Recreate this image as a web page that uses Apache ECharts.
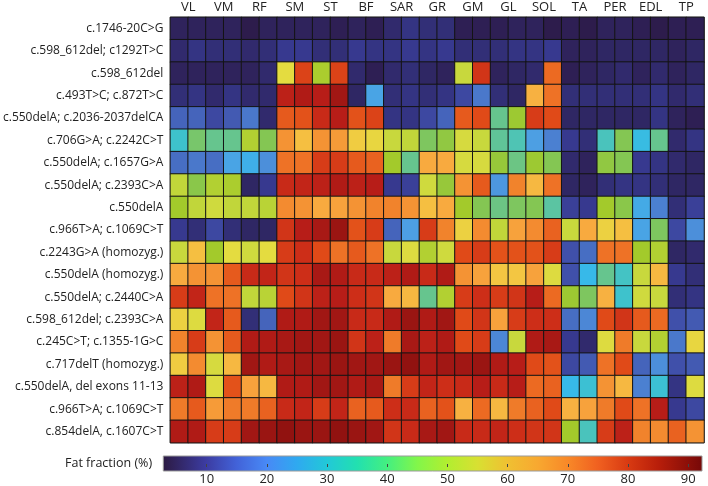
<!DOCTYPE html>
<html><head><meta charset="utf-8">
<script src="https://cdn.jsdelivr.net/npm/echarts@6/dist/echarts.min.js"></script>
<style>html,body{margin:0;padding:0;background:#fff}#c{width:708px;height:486px}</style>
</head><body><div id="c"></div>
<script>
// ---- data ----
const muscles = ['VL','VM','RF','SM','ST','BF','SAR','GR','GM','GL','SOL','TA','PER','EDL','TP'];
const sides = ['1','2'];
const variants = [
  'c.1746-20C>G','c.598_612del; c1292T>C','c.598_612del','c.493T>C; c.872T>C',
  'c.550delA; c.2036-2037delCA','c.706G>A; c.2242C>T','c.550delA; c.1657G>A',
  'c.550delA; c.2393C>A','c.550delA','c.966T>A; c.1069C>T','c.2243G>A (homozyg.)',
  'c.550delA (homozyg.)','c.550delA; c.2440C>A','c.598_612del; c.2393C>A',
  'c.245C>T; c.1355-1G>C','c.717delT (homozyg.)','c.550delA, del exons 11-13',
  'c.966T>A; c.1069C>T','c.854delA, c.1607C>T'
];
const row01 = [5,5, 5,5, 3,5, 5,5, 5,4, 5,4, 7,9, 8,8, 4,4, 4,5, 5,3, 4,3, 5,5, 4,3, 4,4];
const row02 = [7,9, 8,8, 7,8, 10,10, 8,8, 10,9, 9,10, 9,10, 8,8, 8,9, 9,10, 5,5, 6,6, 6,6, 5,6];
const row03 = [5,5, 5,5, 5,7, 57,78, 49,78, 7,4, 7,8, 6,5, 53,80, 5,6, 7,73, 4,5, 6,7, 5,7, 5,6];
const row04 = [8,9, 7,9, 7,7, 84,86, 85,88, 6,23, 8,9, 8,9, 12,17, 8,6, 64,72, 8,8, 8,8, 8,9, 7,8];
const row05 = [15,15, 12,14, 17,7, 75,76, 82,85, 76,78, 9,9, 12,15, 75,77, 38,47, 79,77, 6,6, 6,6, 6,9, 5,4];
const row06 = [31,41, 38,38, 50,43, 68,62, 68,67, 60,58, 53,52, 42,45, 55,53, 37,34, 22,18, 10,8, 33,43, 28,38, 7,9];
const row07 = [16,17, 16,23, 25,20, 72,72, 79,79, 75,74, 48,38, 65,65, 55,55, 46,39, 47,43, 7,5, 45,43, 10,9, 7,6];
const row08 = [52,44, 50,49, 6,10, 82,83, 84,86, 84,85, 10,11, 54,46, 68,75, 21,70, 63,72, 6,5, 8,9, 9,8, 6,6];
const row09 = [48,52, 54,52, 52,51, 69,68, 65,66, 68,70, 70,68, 62,65, 48,43, 39,42, 43,36, 11,10, 48,44, 24,18, 8,11];
const row10 = [10,8, 12,8, 6,6, 80,85, 87,89, 76,79, 15,22, 79,70, 59,69, 52,66, 69,74, 53,65, 59,62, 23,42, 12,20];
const row11 = [53,62, 48,57, 54,57, 79,81, 77,72, 75,72, 53,56, 50,54, 77,79, 76,76, 76,79, 13,16, 72,72, 48,50, 6,7];
const row12 = [65,68, 68,75, 82,83, 80,81, 87,86, 82,82, 84,86, 82,86, 68,66, 61,61, 66,56, 13,27, 38,32, 53,63, 10,8];
const row13 = [79,83, 72,72, 52,51, 77,80, 84,85, 81,80, 65,63, 38,50, 79,81, 79,80, 85,73, 47,42, 64,31, 54,53, 8,9];
const row14 = [59,56, 83,75, 8,15, 86,86, 88,88, 82,82, 86,89, 86,88, 77,80, 66,79, 81,81, 16,19, 77,80, 75,73, 13,14];
const row15 = [70,79, 68,75, 86,86, 87,88, 88,89, 80,84, 71,87, 84,86, 77,79, 19,53, 86,87, 10,7, 56,71, 53,50, 17,58];
const row16 = [60,69, 55,63, 88,86, 87,88, 88,89, 88,88, 89,90, 86,88, 88,89, 86,85, 77,76, 12,14, 72,77, 15,20, 13,14];
const row17 = [84,86, 56,76, 66,63, 86,86, 88,88, 86,87, 71,79, 83,81, 82,85, 82,85, 73,74, 27,30, 68,63, 18,30, 9,56];
const row18 = [71,75, 67,71, 71,74, 82,83, 79,83, 74,75, 81,82, 74,76, 64,73, 63,71, 74,77, 64,66, 71,77, 72,85, 10,12];
const row19 = [86,86, 79,79, 88,89, 90,89, 89,90, 89,88, 80,82, 87,88, 82,82, 83,81, 80,80, 48,33, 79,84, 70,69, 74,68];
const colorbarTicks = [10,20,30,40,50,60,70,80,90];
const ffMin = 2.8, ffMax = 92.3;

// ---- colormap used for the cells (value, color) ----
const cmapStops = [
  [2.8,'#2d1b4a'],[7,'#302a6c'],[10,'#37398f'],[13,'#4050aa'],[17,'#4a78cc'],
  [22,'#4e9fe4'],[27,'#36b9ea'],[31,'#3ec3cc'],[35,'#55c4ac'],[39,'#6cc584'],
  [43,'#84c652'],[48,'#a3ca2a'],[53,'#c8d93e'],[57,'#e4dc40'],[61,'#f4c642'],
  [65,'#f8aa40'],[69,'#f38b30'],[73,'#ec6a22'],[77,'#e04a18'],[81,'#cd2e18'],
  [85,'#b71d18'],[89,'#9a1512'],[92.3,'#7e0c0c']
];
// ---- brighter colours as printed on the reference colour bar ----
const barStops = [
  [2.8,'#2c1a42'],[10,'#3c3ca2'],[15,'#4262d8'],[20,'#4889f6'],[25,'#2fa9f0'],
  [30,'#22c8d8'],[35,'#22e0b0'],[40,'#44ef80'],[45,'#82f64a'],[50,'#b2ee30'],
  [55,'#d8e032'],[60,'#f0c032'],[65,'#f8a830'],[70,'#f88828'],[75,'#f06020'],
  [80,'#d83a12'],[85,'#b81e0a'],[92.3,'#760808']
];
function hex(c){return [1,3,5].map(i=>parseInt(c.substr(i,2),16));}
function lerpColor(stops,v){
  for(let i=0;i<stops.length-1;i++){
    const [a,ca]=stops[i],[b,cb]=stops[i+1];
    if(v<=b){const t=(v-a)/(b-a);const A=hex(ca),B=hex(cb);
      return 'rgb('+A.map((x,k)=>Math.round(x+(B[k]-x)*t)).join(',')+')';}
  }
  return stops[stops.length-1][1];
}
const NC=120, cmap=[];
for(let i=0;i<NC;i++) cmap.push(lerpColor(cmapStops,ffMin+(ffMax-ffMin)*i/(NC-1)));
const barGrad=barStops.map(([v,c])=>({offset:(v-ffMin)/(ffMax-ffMin),color:c}));

const rows=[row01,row02,row03,row04,row05,row06,row07,row08,row09,row10,row11,row12,row13,row14,row15,row16,row17,row18,row19];
const cells=[];
muscles.forEach(m=>sides.forEach(s=>cells.push(m+' '+s)));
const data=[];
rows.forEach((r,yi)=>r.forEach((v,xi)=>data.push([xi,yi,v])));

const FONT='"Open Sans", sans-serif';
const BAR={left:163.3,top:456,width:538.7,height:15};
const chart=echarts.init(document.getElementById('c'),null,{renderer:'canvas'});
chart.setOption({
  animation:false,
  backgroundColor:'#fff',
  grid:[
    {left:165,top:17.3,width:539,height:425.4,containLabel:false,show:true,borderColor:'#777',borderWidth:1},
    {left:BAR.left,top:BAR.top,width:BAR.width,height:BAR.height,containLabel:false}
  ],
  xAxis:[
    {type:'category',gridIndex:0,data:cells,show:false,position:'bottom'},
    {type:'category',gridIndex:0,data:muscles,position:'top',
      axisLine:{show:false},axisTick:{show:false},splitLine:{show:false},
      axisLabel:{fontFamily:FONT,fontSize:13,color:'#222',margin:4,interval:0}},
    {type:'value',gridIndex:1,min:ffMin,max:ffMax,position:'bottom',z:10,
      axisLine:{show:false},splitLine:{show:false},
      axisTick:{show:true,inside:true,length:3,customValues:colorbarTicks,lineStyle:{color:'#444',width:1}},
      axisLabel:{fontFamily:FONT,fontSize:13,color:'#222',margin:6,customValues:colorbarTicks}}
  ],
  yAxis:[
    {type:'category',gridIndex:0,data:variants,inverse:true,
      axisLine:{show:false},axisTick:{show:false},splitLine:{show:false},
      axisLabel:{fontFamily:FONT,fontSize:12,color:'#222',margin:7,interval:0}},
    {type:'value',gridIndex:1,show:false,min:0,max:1}
  ],
  visualMap:{
    type:'continuous',min:ffMin,max:ffMax,show:false,seriesIndex:0,
    inRange:{color:cmap}
  },
  graphic:[
    {type:'rect',z:1,shape:{x:BAR.left,y:BAR.top,width:BAR.width,height:BAR.height},
      style:{fill:new echarts.graphic.LinearGradient(0,0,1,0,barGrad),stroke:'#9a9a9a',lineWidth:1}},
    {type:'text',left:65,top:457,style:{text:'Fat fraction (%)',font:'12.5px '+FONT,fill:'#222'}}
  ],
  series:[
    {type:'heatmap',xAxisIndex:0,yAxisIndex:0,data:data,
      itemStyle:{borderColor:'#141414',borderWidth:1},
      emphasis:{disabled:true},label:{show:false}},
    {type:'scatter',xAxisIndex:2,yAxisIndex:1,data:[]}
  ]
});
</script></body></html>
